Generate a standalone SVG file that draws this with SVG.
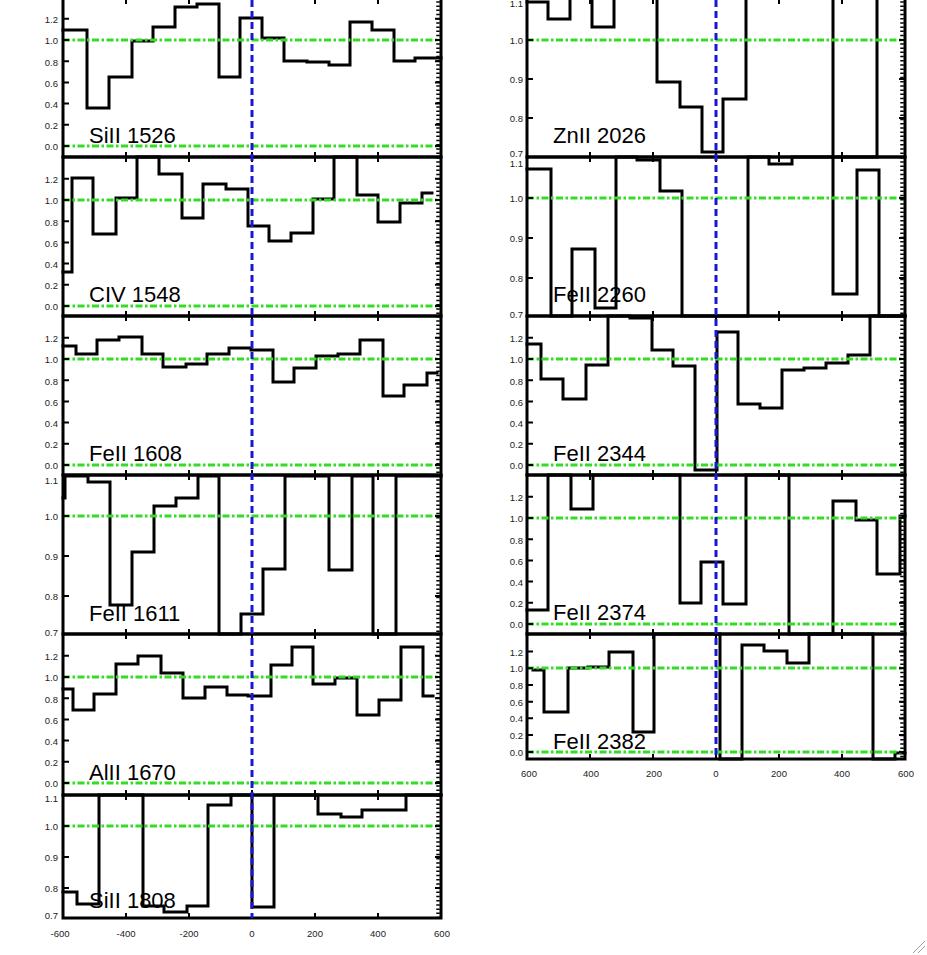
<svg xmlns="http://www.w3.org/2000/svg" width="927" height="955" viewBox="0 0 927 955">
<style>
.frame{fill:none;stroke:#000;stroke-width:3}
.data{fill:none;stroke:#000;stroke-width:3;stroke-linejoin:miter;stroke-linecap:square}
.green{stroke:#33dd22;stroke-width:3;stroke-dasharray:7 2.5 2.5 2.5}
.blue{stroke:#1818d0;stroke-width:3;stroke-dasharray:7 4}
.tick{stroke:#000;stroke-width:2}
.minor{stroke:#000;stroke-width:3.5;stroke-dasharray:1.5 2.7}
.lab{font-family:"Liberation Sans",Arial,sans-serif;font-size:22px;fill:#000}
.tl{font-family:"Liberation Sans",Arial,sans-serif;font-size:9.5px;fill:#222;text-anchor:end}
.xl{font-family:"Liberation Sans",Arial,sans-serif;font-size:9.5px;fill:#222;text-anchor:middle}
</style>
<rect width="927" height="955" fill="#fff"/>

<!-- LEFT COLUMN -->
<g id="panel-SiII1526">
<path class="data" d="M63,30 H87 V108 H109 V77 H132 V41 H153 V27 H175 V7 H197 V4 H219 V77 H240 V18 H262 V38 H284 V61 H307 V62 H329 V65 H350 V22 H372 V30 H394 V61 H415 V58 H441"/>
<line class="green" x1="63" y1="40" x2="441" y2="40"/><line class="green" x1="63" y1="146" x2="441" y2="146"/>
<rect class="frame" x="63" y="-3" width="378" height="160"/>
<line class="minor" x1="438" y1="-3" x2="438" y2="157"/>
<path class="tick" d="M63,146h6M63,124.8h6M63,103.6h6M63,82.4h6M63,61.2h6M63,40h6M63,18.8h6M441,146h-6M441,124.8h-6M441,103.6h-6M441,82.4h-6M441,61.2h-6M441,40h-6M441,18.8h-6M126,157v-5M189,157v-5M252,157v-5M315,157v-5M378,157v-5M126,0v4M189,0v4M315,0v4M378,0v4"/>
<text class="tl" x="58" y="150">0.0</text><text class="tl" x="58" y="129">0.2</text><text class="tl" x="58" y="108">0.4</text><text class="tl" x="58" y="87">0.6</text><text class="tl" x="58" y="66">0.8</text><text class="tl" x="58" y="44">1.0</text><text class="tl" x="58" y="23">1.2</text>
<text class="lab" x="89" y="143">SiII 1526</text>
</g>

<g id="panel-CIV1548">
<path class="data" d="M63,272 H72 V178 H93 V234 H116 V198 H137 V157 H159 V174 H182 V218 H203 V184 H226 V189 H248 V226 H269 V241 H291 V233 H313 V199 H334 V157 H357 V195 H378 V222 H400 V203 H422 V193 H432"/>
<line class="green" x1="63" y1="200" x2="441" y2="200"/><line class="green" x1="63" y1="306" x2="441" y2="306"/>
<rect class="frame" x="63" y="157" width="378" height="159"/>
<line class="minor" x1="438" y1="157" x2="438" y2="316"/>
<path class="tick" d="M63,306h6M63,284.8h6M63,263.6h6M63,242.4h6M63,221.2h6M63,200h6M63,178.8h6M441,306h-6M441,284.8h-6M441,263.6h-6M441,242.4h-6M441,221.2h-6M441,200h-6M441,178.8h-6M126,157v5M189,157v5M252,157v5M315,157v5M378,157v5M126,316v-5M189,316v-5M252,316v-5M315,316v-5M378,316v-5"/>
<text class="tl" x="58" y="310">0.0</text><text class="tl" x="58" y="289">0.2</text><text class="tl" x="58" y="268">0.4</text><text class="tl" x="58" y="247">0.6</text><text class="tl" x="58" y="226">0.8</text><text class="tl" x="58" y="204">1.0</text><text class="tl" x="58" y="183">1.2</text>
<text class="lab" x="89" y="302">CIV 1548</text>
</g>

<g id="panel-FeII1608">
<path class="data" d="M63,346 H76 V354 H97 V340 H119 V337 H142 V354 H163 V367 H186 V364 H207 V354 H229 V348 H251 V350 H273 V382 H294 V368 H316 V356 H338 V354 H360 V340 H383 V396 H404 V385 H427 V373 H437"/>
<line class="green" x1="63" y1="359" x2="441" y2="359"/><line class="green" x1="63" y1="465" x2="441" y2="465"/>
<rect class="frame" x="63" y="316" width="378" height="159"/>
<line class="minor" x1="438" y1="316" x2="438" y2="475"/>
<path class="tick" d="M63,465h6M63,443.8h6M63,422.6h6M63,401.4h6M63,380.2h6M63,359h6M63,337.8h6M441,465h-6M441,443.8h-6M441,422.6h-6M441,401.4h-6M441,380.2h-6M441,359h-6M441,337.8h-6M126,316v5M189,316v5M252,316v5M315,316v5M378,316v5M126,475v-5M189,475v-5M252,475v-5M315,475v-5M378,475v-5"/>
<text class="tl" x="58" y="469">0.0</text><text class="tl" x="58" y="448">0.2</text><text class="tl" x="58" y="427">0.4</text><text class="tl" x="58" y="406">0.6</text><text class="tl" x="58" y="385">0.8</text><text class="tl" x="58" y="363">1.0</text><text class="tl" x="58" y="342">1.2</text>
<text class="lab" x="89" y="461">FeII 1608</text>
</g>

<g id="panel-FeII1611">
<path class="data" d="M63,498 H65 V476 H88 V482 H110 V605 H132 V552 H154 V506 H176 V498 H198 V476 H219 V634 H241 V614 H263 V569 H285 V476 H329 V570 H352 V476 H373 V634 H396 V476 H441"/>
<line class="green" x1="63" y1="516" x2="441" y2="516"/>
<rect class="frame" x="63" y="475" width="378" height="159"/>
<line class="minor" x1="438" y1="475" x2="438" y2="634"/>
<path class="tick" d="M63,516h6M63,556h6M63,596h6M441,516h-6M441,556h-6M441,596h-6M126,475v5M189,475v5M252,475v5M315,475v5M378,475v5M126,634v-5M189,634v-5M252,634v-5M315,634v-5M378,634v-5"/>
<text class="tl" x="58" y="484">1.1</text><text class="tl" x="58" y="520">1.0</text><text class="tl" x="58" y="560">0.9</text><text class="tl" x="58" y="600">0.8</text><text class="tl" x="58" y="636">0.7</text>
<text class="lab" x="89" y="621">FeII 1611</text>
</g>

<g id="panel-AlII1670">
<path class="data" d="M63,689 H73 V710 H94 V694 H116 V664 H138 V656 H161 V673 H183 V698 H205 V687 H227 V695 H248 V696 H271 V665 H292 V647 H313 V684 H335 V678 H357 V715 H379 V700 H401 V647 H423 V696 H433"/>
<line class="green" x1="63" y1="677" x2="441" y2="677"/><line class="green" x1="63" y1="783" x2="441" y2="783"/>
<rect class="frame" x="63" y="634" width="378" height="161"/>
<line class="minor" x1="438" y1="634" x2="438" y2="795"/>
<path class="tick" d="M63,783h6M63,761.8h6M63,740.6h6M63,719.4h6M63,698.2h6M63,677h6M63,655.8h6M441,783h-6M441,761.8h-6M441,740.6h-6M441,719.4h-6M441,698.2h-6M441,677h-6M441,655.8h-6M126,634v5M189,634v5M252,634v5M315,634v5M378,634v5M126,795v-5M189,795v-5M252,795v-5M315,795v-5M378,795v-5"/>
<text class="tl" x="58" y="787">0.0</text><text class="tl" x="58" y="766">0.2</text><text class="tl" x="58" y="745">0.4</text><text class="tl" x="58" y="724">0.6</text><text class="tl" x="58" y="703">0.8</text><text class="tl" x="58" y="681">1.0</text><text class="tl" x="58" y="660">1.2</text>
<text class="lab" x="89" y="780">AlII 1670</text>
</g>

<g id="panel-SiII1808">
<path class="data" d="M63,892 H77 V904 H99 V795 H143 V906 H164 V912 H187 V906 H208 V805 H231 V795 H252 V907 H274 V795 H318 V814 H341 V817 H362 V810 H406 V795 H441"/>
<line class="green" x1="63" y1="826" x2="441" y2="826"/>
<rect class="frame" x="63" y="795" width="378" height="123"/>
<line class="minor" x1="438" y1="795" x2="438" y2="918"/>
<path class="tick" d="M63,826h6M63,857h6M63,888h6M441,826h-6M441,857h-6M441,888h-6M126,795v5M189,795v5M252,795v5M315,795v5M378,795v5M126,918v-5M189,918v-5M252,918v-5M315,918v-5M378,918v-5"/>
<text class="tl" x="58" y="802">1.1</text><text class="tl" x="58" y="830">1.0</text><text class="tl" x="58" y="861">0.9</text><text class="tl" x="58" y="892">0.8</text><text class="tl" x="58" y="919">0.7</text>
<text class="lab" x="89" y="908">SiII 1808</text>
<text class="xl" x="60" y="937">-600</text><text class="xl" x="126" y="937">-400</text><text class="xl" x="189" y="937">-200</text><text class="xl" x="252" y="937">0</text><text class="xl" x="315" y="937">200</text><text class="xl" x="378" y="937">400</text><text class="xl" x="442" y="937">600</text>
</g>

<!-- RIGHT COLUMN -->
<g id="panel-ZnII2026">
<path class="data" d="M527,2 H548 V19 H570 V-3 H592 V27 H614 V-3 H657 V82 H680 V107 H702 V152 H723 V99 H746 V-3 H833 V157 H877 V-3 H905"/>
<line class="green" x1="527" y1="40" x2="905" y2="40"/>
<rect class="frame" x="527" y="-3" width="378" height="160"/>
<line class="minor" x1="902" y1="-3" x2="902" y2="157"/>
<path class="tick" d="M527,40h6M527,79h6M527,118h6M905,40h-6M905,79h-6M905,118h-6M590,157v-5M653,157v-5M716,157v-5M779,157v-5M842,157v-5M590,0v4M653,0v4M779,0v4M842,0v4"/>
<text class="tl" x="523" y="7">1.1</text><text class="tl" x="523" y="44">1.0</text><text class="tl" x="523" y="83">0.9</text><text class="tl" x="523" y="122">0.8</text><text class="tl" x="523" y="157">0.7</text>
<text class="lab" x="553" y="143">ZnII 2026</text>
</g>

<g id="panel-FeII2260">
<path class="data" d="M527,169 H551 V316 H572 V249 H595 V308 H616 V157 H637 V160 H660 V191 H682 V316 H748 V157 H769 V164 H792 V157 H833 V294 H857 V170 H879 V316 H905"/>
<line class="green" x1="527" y1="198" x2="905" y2="198"/>
<rect class="frame" x="527" y="157" width="378" height="159"/>
<line class="minor" x1="902" y1="157" x2="902" y2="316"/>
<path class="tick" d="M527,198h6M527,238h6M527,278h6M905,198h-6M905,238h-6M905,278h-6M590,157v5M653,157v5M716,157v5M779,157v5M842,157v5M590,316v-5M653,316v-5M716,316v-5M779,316v-5M842,316v-5"/>
<text class="tl" x="523" y="166.5">1.1</text><text class="tl" x="523" y="202">1.0</text><text class="tl" x="523" y="242">0.9</text><text class="tl" x="523" y="282">0.8</text><text class="tl" x="523" y="318">0.7</text>
<text class="lab" x="553" y="302">FeII 2260</text>
</g>

<g id="panel-FeII2344">
<path class="data" d="M527,344 H541 V379 H563 V399 H586 V365 H608 V316 H630 V318 H652 V350 H673 V366 H695 V470 H717 V332 H738 V404 H760 V408 H782 V370 H804 V368 H826 V363 H848 V355 H870 V316 H905"/>
<line class="green" x1="527" y1="359" x2="905" y2="359"/><line class="green" x1="527" y1="465" x2="905" y2="465"/>
<rect class="frame" x="527" y="316" width="378" height="159"/>
<line class="minor" x1="902" y1="316" x2="902" y2="475"/>
<path class="tick" d="M527,465h6M527,443.8h6M527,422.6h6M527,401.4h6M527,380.2h6M527,359h6M527,337.8h6M905,465h-6M905,443.8h-6M905,422.6h-6M905,401.4h-6M905,380.2h-6M905,359h-6M905,337.8h-6M590,316v5M653,316v5M716,316v5M779,316v5M842,316v5M590,475v-5M653,475v-5M716,475v-5M779,475v-5M842,475v-5"/>
<text class="tl" x="523" y="469">0.0</text><text class="tl" x="523" y="448">0.2</text><text class="tl" x="523" y="427">0.4</text><text class="tl" x="523" y="406">0.6</text><text class="tl" x="523" y="385">0.8</text><text class="tl" x="523" y="363">1.0</text><text class="tl" x="523" y="342">1.2</text>
<text class="lab" x="553" y="461">FeII 2344</text>
</g>

<g id="panel-FeII2374">
<path class="data" d="M527,610 H548 V475 H571 V509 H593 V475 H680 V603 H701 V562 H723 V604 H746 V475 H789 V634 H833 V501 H856 V520 H877 V574 H900 V516 H905"/>
<line class="green" x1="527" y1="518" x2="905" y2="518"/><line class="green" x1="527" y1="624" x2="905" y2="624"/>
<rect class="frame" x="527" y="475" width="378" height="159"/>
<line class="minor" x1="902" y1="475" x2="902" y2="634"/>
<path class="tick" d="M527,624h6M527,602.8h6M527,581.6h6M527,560.4h6M527,539.2h6M527,518h6M527,496.8h6M905,624h-6M905,602.8h-6M905,581.6h-6M905,560.4h-6M905,539.2h-6M905,518h-6M905,496.8h-6M590,475v5M653,475v5M716,475v5M779,475v5M842,475v5M590,634v-5M653,634v-5M716,634v-5M779,634v-5M842,634v-5"/>
<text class="tl" x="523" y="628">0.0</text><text class="tl" x="523" y="607">0.2</text><text class="tl" x="523" y="586">0.4</text><text class="tl" x="523" y="565">0.6</text><text class="tl" x="523" y="544">0.8</text><text class="tl" x="523" y="522">1.0</text><text class="tl" x="523" y="501">1.2</text>
<text class="lab" x="553" y="620">FeII 2374</text>
</g>

<g id="panel-FeII2382">
<path class="data" d="M533,670 H544 V712 H568 V668 H588 V667 H609 V652 H633 V732 H654 V634 H720 V759 H742 V645 H764 V651 H787 V663 H809 V634 H873 V759 H895 V753 H905"/>
<line class="green" x1="527" y1="668" x2="905" y2="668"/><line class="green" x1="527" y1="752" x2="905" y2="752"/>
<rect class="frame" x="527" y="634" width="378" height="125"/>
<line class="minor" x1="902" y1="634" x2="902" y2="759"/>
<path class="tick" d="M527,752h6M527,735h6M527,718.3h6M527,701.7h6M527,685h6M527,668.3h6M527,651.6h6M905,752h-6M905,735h-6M905,718.3h-6M905,701.7h-6M905,685h-6M905,668.3h-6M905,651.6h-6M590,634v5M653,634v5M716,634v5M779,634v5M842,634v5M590,759v-5M653,759v-5M716,759v-5M779,759v-5M842,759v-5"/>
<text class="tl" x="523" y="756">0.0</text><text class="tl" x="523" y="739">0.2</text><text class="tl" x="523" y="722">0.4</text><text class="tl" x="523" y="706">0.6</text><text class="tl" x="523" y="689">0.8</text><text class="tl" x="523" y="672">1.0</text><text class="tl" x="523" y="656">1.2</text>
<text class="lab" x="553" y="749">FeII 2382</text>
<text class="xl" x="529" y="777">600</text><text class="xl" x="591" y="777">400</text><text class="xl" x="654" y="777">200</text><text class="xl" x="716" y="777">0</text><text class="xl" x="779" y="777">200</text><text class="xl" x="842" y="777">400</text><text class="xl" x="906" y="777">600</text>
</g>

<g id="connectors">
<line class="blue" x1="252" y1="0" x2="252" y2="918"/>
<line class="blue" x1="716" y1="0" x2="716" y2="759"/>
</g>

<g id="resize-grip" stroke="#a0a0a0" stroke-width="1">
<line x1="913" y1="953" x2="925" y2="941"/>
<line x1="918" y1="953" x2="925" y2="946"/>
</g>
</svg>
